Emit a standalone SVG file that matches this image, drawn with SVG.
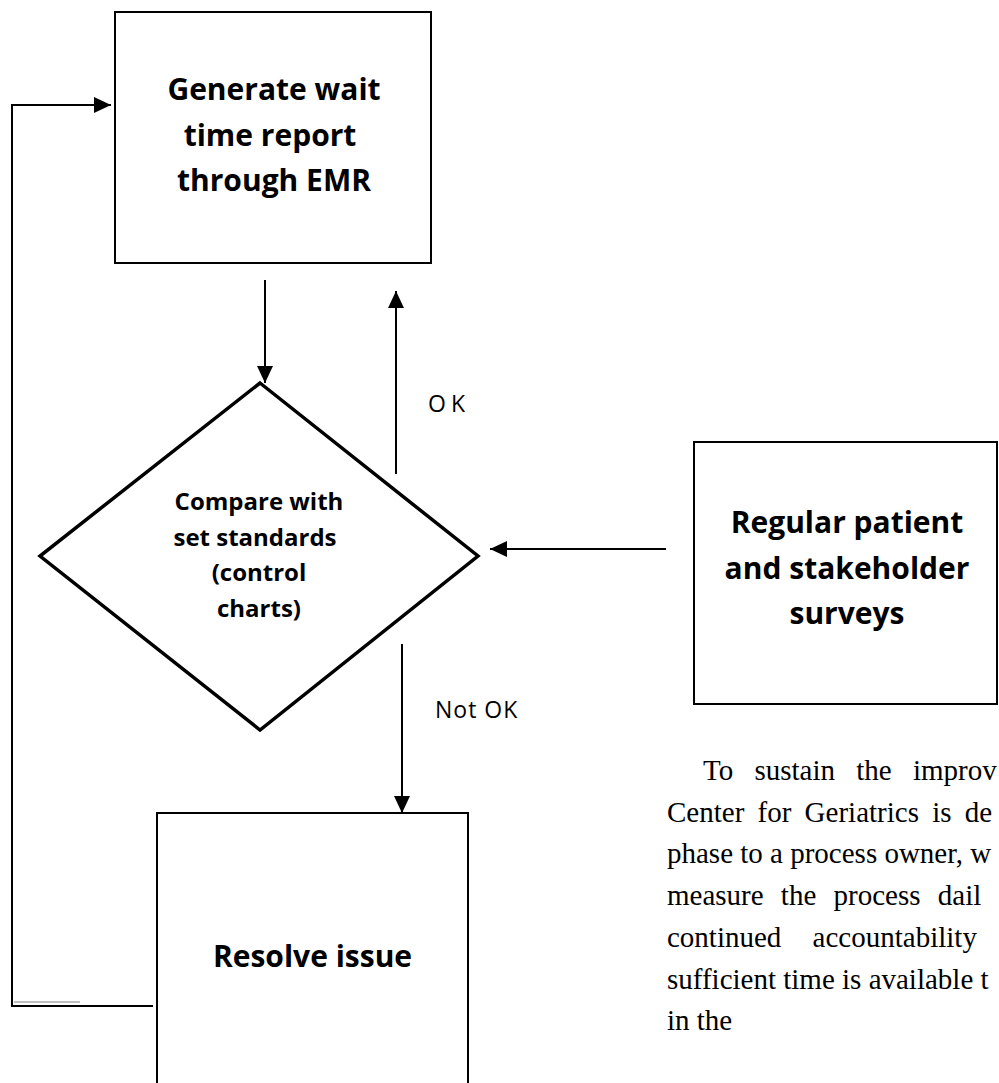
<svg xmlns="http://www.w3.org/2000/svg" width="999" height="1083" viewBox="0 0 999 1083">
<style>
.box{fill:#fff;stroke:#000;stroke-width:2}
.dia{fill:#fff;stroke:#000;stroke-width:3.5;stroke-linejoin:miter}
.lbl{font-family:"Open Sans","Liberation Sans",sans-serif;font-weight:bold;fill:#000;text-anchor:middle}
.big{font-size:30px}
.mid{font-size:24px}
.edge{font-family:"Open Sans","Liberation Sans",sans-serif;font-size:23px;fill:#000}
.con{fill:none;stroke:#000;stroke-width:2}
.para{font-family:"Liberation Serif","Times New Roman",serif;font-size:29px;fill:#000}
</style>
<defs>
<marker id="ah" markerUnits="userSpaceOnUse" markerWidth="17" markerHeight="16" refX="17" refY="8" orient="auto">
<path d="M0,0 L17,8 L0,16 z" fill="#000"/>
</marker>
</defs>
<rect width="999" height="1083" fill="#fff"/>
<g id="connectors">
<line class="con" x1="265" y1="280" x2="265" y2="383" marker-end="url(#ah)"/>
<line class="con" x1="396" y1="474" x2="396" y2="291" marker-end="url(#ah)"/>
<line class="con" x1="402" y1="644" x2="402" y2="813" marker-end="url(#ah)"/>
<line class="con" x1="666" y1="549" x2="490" y2="549" marker-end="url(#ah)"/>
<polyline class="con" points="153,1006 12,1006 12,105 111,105" marker-end="url(#ah)"/>
<line x1="14" y1="1002" x2="80" y2="1002" stroke="#aaa" stroke-width="1.5"/>
<text class="edge" x="428" y="412" textLength="37">OK</text>
<text class="edge" x="435" y="718" letter-spacing="1">Not OK</text>
</g>
<g id="node-generate">
<rect class="box" x="115" y="12" width="316" height="251"/>
<text class="lbl big" x="274" y="100">Generate wait</text>
<text class="lbl big" x="270" y="145.5">time report</text>
<text class="lbl big" x="274" y="191">through EMR</text>
</g>
<g id="node-compare">
<polygon class="dia" points="260,383 478,556 260,730 40,556"/>
<text class="lbl mid" x="259" y="510">Compare with</text>
<text class="lbl mid" x="255" y="545.5">set standards</text>
<text class="lbl mid" x="259" y="581">(control</text>
<text class="lbl mid" x="259" y="616.5">charts)</text>
</g>
<g id="node-surveys">
<rect class="box" x="694" y="442" width="303" height="262"/>
<text class="lbl big" x="847" y="533">Regular patient</text>
<text class="lbl big" x="847" y="578.5">and stakeholder</text>
<text class="lbl big" x="847" y="624">surveys</text>
</g>
<g id="node-resolve">
<rect class="box" x="157" y="813" width="311" height="300"/>
<text class="lbl big" x="312.5" y="967">Resolve issue</text>
</g>
<g id="paragraph">
<text class="para" x="703" y="780" word-spacing="14">To sustain the improv</text>
<text class="para" x="667" y="821.5" word-spacing="6">Center for Geriatrics is de</text>
<text class="para" x="667" y="863">phase to a process owner, w</text>
<text class="para" x="667" y="905" word-spacing="10">measure the process dail</text>
<text class="para" x="667" y="947" word-spacing="24">continued accountability</text>
<text class="para" x="667" y="988.5">sufficient time is available t</text>
<text class="para" x="667" y="1030">in the</text>
</g>
</svg>
